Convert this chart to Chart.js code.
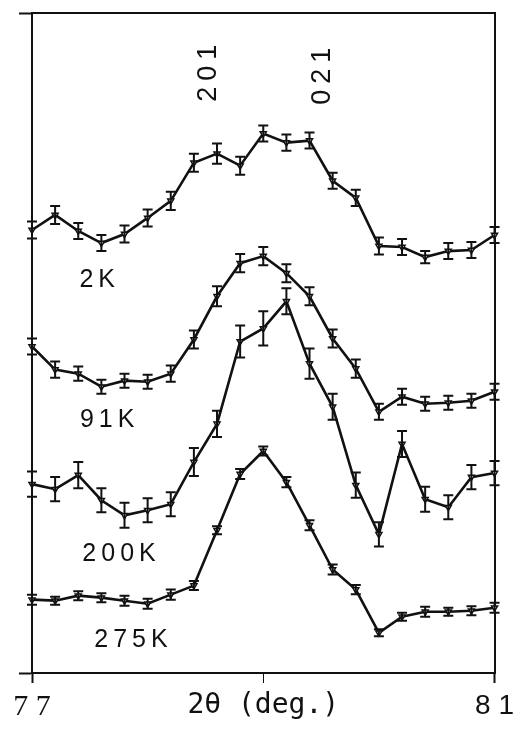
<!DOCTYPE html>
<html>
<head>
<meta charset="utf-8">
<title>Diffraction scans</title>
<script src="https://cdn.jsdelivr.net/npm/chart.js@4.4.1/dist/chart.umd.min.js"></script>
<style>
  html, body { margin: 0; padding: 0; background: #fff; }
  #wrap { width: 520px; height: 731px; }
</style>
</head>
<body>
<div id="wrap"><canvas id="scanChart"></canvas></div>
<script>
// 2theta positions (deg.)
const twoTheta = [77.0, 77.2, 77.4, 77.6, 77.8, 78.0, 78.2, 78.4, 78.6, 78.8, 79.0,
                  79.2, 79.4, 79.6, 79.8, 80.0, 80.2, 80.4, 80.6, 80.8, 81.0];

// intensities (arb. units, curves offset)
const counts2K   = [44.1, 45.6, 44.0, 42.8, 43.7, 45.3, 47.0, 50.8, 51.7, 50.5, 53.7,
                    52.8, 53.0, 49.0, 47.3, 42.5, 42.4, 41.4, 42.0, 42.1, 43.6];
const counts91K  = [32.5, 30.2, 29.8, 28.5, 29.1, 29.0, 29.8, 33.2, 37.5, 40.8, 41.5,
                    39.8, 37.5, 33.3, 30.3, 26.0, 27.5, 26.8, 26.9, 27.1, 28.0];
const counts200K = [18.8, 18.3, 19.7, 17.2, 15.7, 16.2, 16.8, 21.0, 24.8, 33.0, 34.3,
                    37.0, 30.8, 26.5, 18.7, 13.8, 22.8, 17.3, 16.5, 19.5, 19.9];
const counts275K = [7.3, 7.2, 7.7, 7.5, 7.2, 6.9, 7.8, 8.7, 14.2, 19.8, 22.1,
                    19.0, 14.7, 10.3, 8.3, 4.0, 5.6, 6.1, 6.1, 6.2, 6.5];

// error bars (half length, same units)
const err2K   = [0.85, 0.9, 0.8, 0.8, 0.85, 0.85, 0.9, 0.9, 1.0, 0.9, 0.8,
                 0.8, 0.8, 0.8, 0.8, 0.85, 0.8, 0.6, 0.8, 0.8, 0.8];
const err91K  = [0.8, 0.8, 0.7, 0.7, 0.7, 0.7, 0.8, 0.9, 1.0, 0.9, 0.9,
                 0.9, 0.9, 0.9, 0.9, 0.8, 0.8, 0.7, 0.7, 0.7, 0.8];
const err200K = [1.25, 1.2, 1.3, 1.2, 1.25, 1.2, 1.2, 1.4, 1.3, 1.6, 1.7,
                 1.3, 1.5, 1.3, 1.25, 1.2, 1.3, 1.25, 1.2, 1.2, 1.2];
const err275K = [0.5, 0.4, 0.45, 0.45, 0.5, 0.5, 0.5, 0.45, 0.4, 0.5, 0.45,
                 0.5, 0.5, 0.5, 0.45, 0.35, 0.4, 0.5, 0.4, 0.45, 0.5];

const seriesNames = ['2K', '91K', '200K', '275K'];
const reflections = ['201', '021'];

// x tick labels
const xTickValues = [77, 79, 81];
const xTickLabels = ['7 7', '2\u03b8 (deg.)', '8 1'];

function makeSeries(name, counts, errs) {
    return {
        label: name,
        data: twoTheta.map((t, i) => ({ x: t, y: counts[i] })),
        errors: errs,
        borderColor: '#111',
        borderWidth: 2.6,
        backgroundColor: '#fff',
        pointStyle: 'triangle',
        rotation: 180,
        pointRadius: 3.5,
        pointBorderWidth: 1.5,
        pointBorderColor: '#111',
        pointBackgroundColor: '#fff',
        tension: 0,
        clip: false
    };
}

// Draw error bars from each dataset's errors array
const errorBars = {
    id: 'errorBars',
    afterDatasetsDraw(chart) {
        const ctx = chart.ctx;
        const xs = chart.scales.x;
        const ys = chart.scales.y;
        ctx.save();
        ctx.strokeStyle = '#111';
        ctx.lineWidth = 2;
        chart.data.datasets.forEach(ds => {
            ds.data.forEach((p, i) => {
                const e = ds.errors[i];
                const px = xs.getPixelForValue(p.x);
                const top = ys.getPixelForValue(p.y + e);
                const bot = ys.getPixelForValue(p.y - e);
                ctx.beginPath();
                ctx.moveTo(px, top); ctx.lineTo(px, bot);
                ctx.moveTo(px - 5, top); ctx.lineTo(px + 5, top);
                ctx.moveTo(px - 5, bot); ctx.lineTo(px + 5, bot);
                ctx.stroke();
            });
        });
        ctx.restore();
    }
};

// Curve names and reflection labels, placed in data coordinates
const textLabels = {
    id: 'textLabels',
    afterDraw(chart, args, opts) {
        const ctx = chart.ctx;
        const xs = chart.scales.x;
        const ys = chart.scales.y;
        ctx.save();
        ctx.fillStyle = '#111';
        ctx.textAlign = 'center';
        ctx.textBaseline = 'middle';
        ctx.font = '25px "Liberation Sans", Arial, sans-serif';
        ctx.letterSpacing = '5px';
        opts.names.forEach((n, i) => {
            const pos = opts.namePos[i];
            ctx.fillText(n, xs.getPixelForValue(pos[0]) + 2, ys.getPixelForValue(pos[1]));
        });
        ctx.font = '27px "Liberation Sans", Arial, sans-serif';
        ctx.letterSpacing = '6px';
        opts.peaks.forEach((n, i) => {
            const pos = opts.peakPos[i];
            ctx.save();
            ctx.translate(xs.getPixelForValue(pos[0]), ys.getPixelForValue(pos[1]));
            ctx.rotate(-Math.PI / 2);
            ctx.fillText(n, 3, 0);
            ctx.restore();
        });
        ctx.restore();
    }
};

const ctx = document.getElementById('scanChart').getContext('2d');
const scanChart = new Chart(ctx, {
    type: 'line',
    data: {
        datasets: [
            makeSeries(seriesNames[0], counts2K, err2K),
            makeSeries(seriesNames[1], counts91K, err91K),
            makeSeries(seriesNames[2], counts200K, err200K),
            makeSeries(seriesNames[3], counts275K, err275K)
        ]
    },
    options: {
        responsive: true,
        maintainAspectRatio: false,
        animation: false,
        layout: { padding: { left: 19, right: 18, top: 13, bottom: 0 } },
        plugins: {
            legend: { display: false },
            tooltip: { enabled: false },
            textLabels: {
                names: seriesNames,
                namePos: [[77.568, 39.1], [77.654, 25.2], [77.757, 11.8], [77.860, 3.3]],
                peaks: reflections,
                peakPos: [[78.523, 59.7], [79.512, 59.4]]
            }
        },
        scales: {
            x: {
                type: 'linear',
                min: 77,
                max: 81,
                afterBuildTicks: axis => { axis.ticks = xTickValues.map(v => ({ value: v })); },
                ticks: {
                    color: '#111',
                    padding: 6,
                    maxRotation: 0,
                    autoSkip: false,
                    callback: v => xTickLabels[xTickValues.indexOf(v)],
                    font: c => {
                        const v = c.tick ? c.tick.value : 0;
                        if (v === 77) return { family: '"Liberation Serif", serif', size: 30 };
                        if (v === 81) return { family: '"Liberation Sans", sans-serif', size: 28 };
                        return { family: '"DejaVu Sans Mono", monospace', size: 28 };
                    }
                },
                grid: {
                    drawOnChartArea: false,
                    drawTicks: true,
                    tickLength: 10,
                    tickColor: '#111',
                    tickWidth: c => (c.tick && c.tick.value === 79) ? 1 : 2
                },
                border: { display: true, color: '#111', width: 2 }
            },
            y: {
                type: 'linear',
                min: 0,
                max: 65.7,
                afterBuildTicks: axis => { axis.ticks = [{ value: 0 }, { value: 65.7 }]; },
                ticks: { display: false },
                grid: {
                    drawOnChartArea: false,
                    drawTicks: true,
                    tickLength: 13,
                    tickColor: '#111',
                    tickWidth: 2
                },
                border: { display: true, color: '#111', width: 2 }
            },
            x2: {
                type: 'linear',
                position: 'top',
                min: 77,
                max: 81,
                ticks: { display: false },
                grid: { drawOnChartArea: false, drawTicks: false },
                border: { display: true, color: '#111', width: 2 }
            },
            y2: {
                type: 'linear',
                position: 'right',
                min: 0,
                max: 65.7,
                ticks: { display: false },
                grid: { drawOnChartArea: false, drawTicks: false },
                border: { display: true, color: '#111', width: 2 }
            }
        }
    },
    plugins: [errorBars, textLabels]
});
</script>
</body>
</html>
